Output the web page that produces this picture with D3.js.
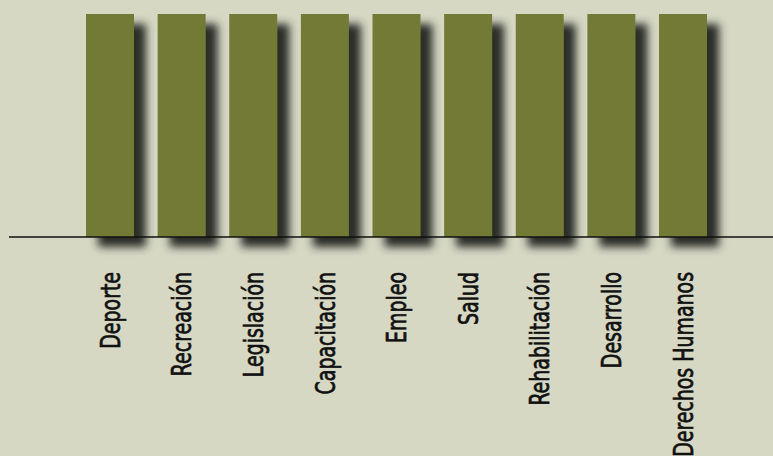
<!DOCTYPE html>
<html>
<head>
<meta charset="utf-8">
<script src="https://cdn.jsdelivr.net/npm/d3@7/dist/d3.min.js"></script>
<style>
html,body{margin:0;padding:0;background:#d6d8c4;}
svg{display:block;}
</style>
</head>
<body>
<svg id="chart" width="773" height="456"></svg>
<script>
const categories = ["Deporte","Recreación","Legislación","Capacitación","Empleo","Salud","Rehabilitación","Desarrollo","Derechos Humanos"];
const values = [1,1,1,1,1,1,1,1,1];

const W = 773, H = 456;
const svg = d3.select("#chart");
svg.append("rect").attr("width", W).attr("height", H).attr("fill", "#d6d8c4");

const defs = svg.append("defs");
const f = defs.append("filter").attr("id","shadow").attr("x","-50%").attr("y","-20%").attr("width","200%").attr("height","140%");
f.append("feGaussianBlur").attr("in","SourceAlpha").attr("stdDeviation",4.5).attr("result","b");
f.append("feOffset").attr("in","b").attr("dx",12).attr("dy",10).attr("result","o");
f.append("feFlood").attr("flood-color","#2a2d28").attr("flood-opacity",1);
f.append("feComposite").attr("in2","o").attr("operator","in").attr("result","s");
const m = f.append("feMerge");
m.append("feMergeNode").attr("in","s");
m.append("feMergeNode").attr("in","SourceGraphic");

const x = d3.scaleBand().domain(categories).range([86, 707]).paddingInner(0.33).paddingOuter(0);
const y = d3.scaleLinear().domain([0, d3.max(values)]).range([237, 14]);

const data = categories.map((c,i)=>({c, v: values[i]}));

svg.append("g").selectAll("rect").data(data).join("rect")
  .attr("x", d => x(d.c))
  .attr("y", d => y(d.v))
  .attr("width", x.bandwidth())
  .attr("height", d => y(0) - y(d.v))
  .attr("fill", "#737a36")
  .attr("filter", "url(#shadow)");

const sx = 0.78;
const axis = d3.axisBottom(x).tickSize(0).tickPadding(0);
const g = svg.append("g").attr("transform", `translate(0,${y(0)})`).call(axis);
g.select(".domain").remove();
g.append("line").attr("x1", 9).attr("x2", W).attr("y1", 0).attr("y2", 0)
  .attr("stroke", "#111").attr("stroke-width", 1.5);
g.selectAll(".tick text")
  .attr("transform", `rotate(-90) scale(${sx},1)`)
  .attr("x", -35 / sx).attr("y", 0).attr("dy", "0.36em")
  .attr("text-anchor", "end")
  .attr("fill", "#111")
  .attr("stroke", "#111").attr("stroke-width", 0.7)
  .style("font-family", "'DejaVu Sans Condensed', 'DejaVu Sans', sans-serif")
  .style("font-size", "27px");
</script>
</body>
</html>
